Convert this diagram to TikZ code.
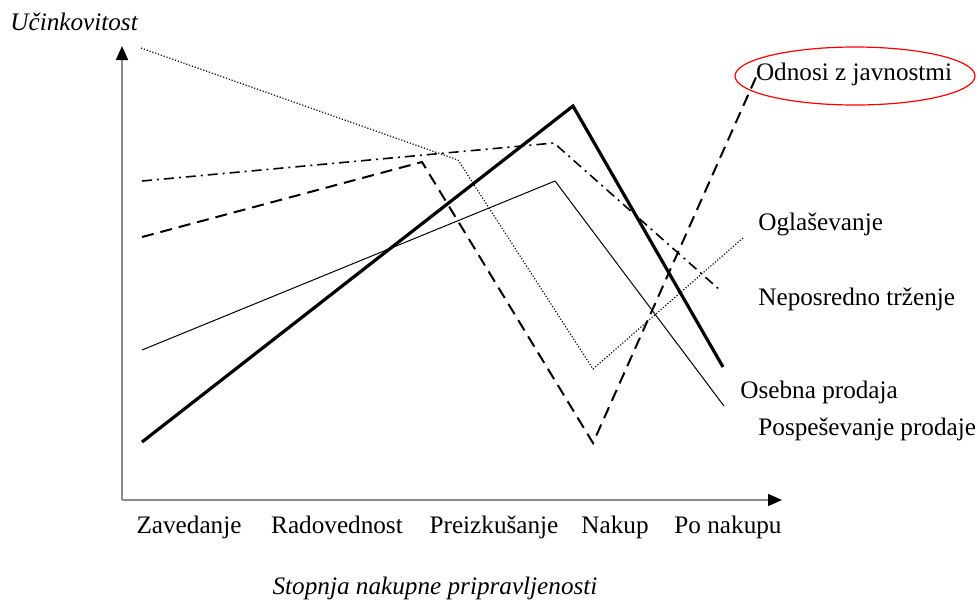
\documentclass[tikz,border=0pt]{standalone}
\usepackage{fontspec}
\setmainfont{Liberation Serif}
\usetikzlibrary{arrows.meta,shapes.geometric}
\begin{document}
\begin{tikzpicture}[x=0.5pt,y=-0.5pt,
  lbl/.style={font=\fontsize{12.6}{15}\selectfont, inner sep=0pt},
  axislbl/.style={lbl, font=\fontsize{12.6}{15}\selectfont\itshape},
  axisline/.style={draw=black!45, line width=0.8pt, -{Triangle[length=7pt,width=6pt,color=black]}},
  osebna/.style={line width=1.6pt, line join=miter},
  pospes/.style={line width=0.5pt},
  odnosi/.style={line width=1pt, dash pattern=on 6pt off 3.5pt},
  neposr/.style={line width=0.8pt, dash pattern=on 5pt off 2.5pt on 1pt off 2.5pt},
  oglas/.style={line width=0.55pt, dash pattern=on 0.6pt off 0.9pt}]
\useasboundingbox (0,0) rectangle (978,601);

% axes
\coordinate (O) at (122,500);
\coordinate (ytip) at (122,46);
\coordinate (xtip) at (782,500);
\draw[axisline] (O) -- (ytip);
\draw[axisline] (O) -- (xtip);
\node[axislbl, anchor=base west] (ylab) at (10,30) {Učinkovitost};
\node[axislbl, anchor=base] (xlab) at (435,594) {Stopnja nakupne pripravljenosti};

% stages
\node[lbl, anchor=base] (s1) at (189,533) {Zavedanje};
\node[lbl, anchor=base] (s2) at (337,533) {Radovednost};
\node[lbl, anchor=base] (s3) at (494,533) {Preizkušanje};
\node[lbl, anchor=base] (s4) at (615,533) {Nakup};
\node[lbl, anchor=base] (s5) at (728,533) {Po nakupu};

% Osebna prodaja
\coordinate (a1) at (142,442);
\coordinate (a2) at (573,106);
\coordinate (a3) at (723,367);
\draw[osebna] (a1) -- (a2) -- (a3);

% Pospeševanje prodaje
\coordinate (b1) at (142,350);
\coordinate (b2) at (555,181);
\coordinate (b3) at (724,406);
\draw[pospes] (b1) -- (b2) -- (b3);

% Odnosi z javnostmi
\coordinate (c1) at (142,237);
\coordinate (c2) at (422,162);
\coordinate (c3) at (593,443);
\coordinate (c4) at (757,75);
\draw[odnosi] (c1) -- (c2) -- (c3) -- (c4);

% Neposredno trženje
\coordinate (d1) at (142,181);
\coordinate (d2) at (554,143);
\coordinate (d3) at (721,291);
\draw[neposr] (d1) -- (d2) -- (d3);

% Oglaševanje
\coordinate (e1) at (141,48);
\coordinate (e2) at (458,160);
\coordinate (e3) at (593,369);
\coordinate (e4) at (744,237);
\draw[oglas] (e1) -- (e2) -- (e3) -- (e4);

% series labels
\node[draw=red, line width=0.6pt, ellipse, minimum width=120pt, minimum height=29pt] (ell) at (855,76) {};
\node[lbl, anchor=base] (lodn) at (854,80) {Odnosi z javnostmi};
\node[lbl, anchor=base west] (logl) at (758,230) {Oglaševanje};
\node[lbl, anchor=base west] (lnep) at (758,305) {Neposredno trženje};
\node[lbl, anchor=base west] (lose) at (740,398) {Osebna prodaja};
\node[lbl, anchor=base west] (lpos) at (758,435) {Pospeševanje prodaje};
\end{tikzpicture}
\end{document}
